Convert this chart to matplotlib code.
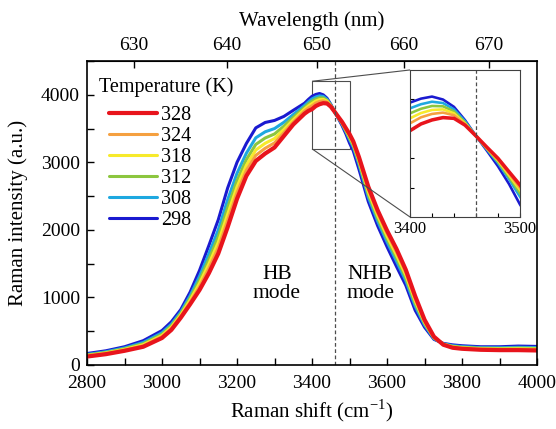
import numpy as np
import matplotlib
matplotlib.use('Agg')
import matplotlib.pyplot as plt
from mpl_toolkits.axes_grid1.inset_locator import mark_inset

plt.rcParams['font.family'] = ['Liberation Serif', 'DejaVu Serif']

# Raman shift grid (cm-1)
shift = [2800, 2850, 2900, 2950, 3000, 3025, 3050, 3075, 3100, 3125, 3150,
         3175, 3200, 3225, 3250, 3275, 3300, 3325, 3350, 3380, 3390, 3400,
         3410, 3420, 3430, 3440, 3450, 3460, 3470, 3480, 3490, 3500, 3510,
         3525, 3550, 3575, 3600, 3625, 3650, 3675, 3700, 3725, 3750, 3775,
         3800, 3850, 3900, 3950, 4000]

# intensities, one list per temperature
i298 = [170, 210, 270, 360, 510, 640, 820, 1080, 1400, 1770, 2150,
        2620, 3000, 3280, 3510, 3590, 3620, 3680, 3770, 3875, 3930, 3978,
        4005, 4019, 3999, 3949, 3859, 3751, 3650, 3545, 3425, 3285, 3170,
        2900, 2420, 2060, 1750, 1460, 1180, 810, 560, 380, 320, 298,
        285, 270, 270, 280, 275]
i308 = [155, 195, 252, 333, 477, 604, 784, 1026, 1313, 1647, 2000,
        2446, 2838, 3136, 3363, 3452, 3500, 3593, 3707, 3841, 3893, 3939,
        3967, 3984, 3975, 3932, 3852, 3751, 3659, 3567, 3458, 3338, 3226,
        2972, 2486, 2129, 1822, 1538, 1249, 873, 593, 392, 314, 285,
        272, 257, 255, 262, 257]
i312 = [148, 185, 240, 315, 455, 580, 760, 990, 1255, 1565, 1900,
        2330, 2730, 3040, 3265, 3360, 3420, 3535, 3665, 3813, 3862, 3905,
        3936, 3955, 3953, 3918, 3843, 3751, 3663, 3577, 3472, 3361, 3250,
        3003, 2530, 2175, 1870, 1590, 1295, 915, 615, 400, 310, 276,
        262, 248, 245, 250, 245]
i318 = [140, 177, 230, 300, 436, 560, 740, 959, 1206, 1495, 1815,
        2231, 2638, 2958, 3182, 3282, 3352, 3486, 3629, 3787, 3833, 3871,
        3907, 3928, 3932, 3905, 3836, 3751, 3667, 3585, 3485, 3384, 3272,
        3031, 2567, 2214, 1910, 1634, 1334, 951, 634, 407, 307, 269,
        255, 240, 237, 240, 235]
i324 = [133, 168, 220, 285, 419, 540, 720, 931, 1159, 1430, 1735,
        2139, 2552, 2882, 3103, 3208, 3288, 3439, 3596, 3760, 3804, 3837,
        3878, 3901, 3910, 3892, 3831, 3751, 3670, 3592, 3496, 3399, 3290,
        3055, 2603, 2252, 1950, 1676, 1371, 984, 651, 413, 303, 262,
        248, 233, 228, 230, 225]
i328 = [125, 160, 210, 270, 400, 520, 700, 900, 1110, 1360, 1650,
        2040, 2460, 2800, 3020, 3130, 3220, 3390, 3560, 3720, 3760, 3787,
        3833, 3860, 3876, 3871, 3825, 3751, 3674, 3599, 3508, 3418, 3310,
        3080, 2640, 2290, 1990, 1720, 1410, 1020, 670, 420, 300, 255,
        240, 225, 220, 220, 215]

temps = ['328', '324', '318', '312', '308', '298']
series = [i328, i324, i318, i312, i308, i298]
colors = ['#e8141c', '#f5a040', '#f7ea2c', '#8cc63f', '#1ea8e0', '#1a1ad0']
widths = [3.0, 2.2, 2.2, 2.2, 2.2, 2.2]

wl_ticks = [630, 640, 650, 660, 670]
laser = 1e7 / 532.0  # excitation, cm-1


def to_wl(s):
    return 1e7 / (laser - np.asarray(s, dtype=float))


def to_shift(w):
    return laser - 1e7 / np.asarray(w, dtype=float)


fig = plt.figure(figsize=(5.56, 4.29), dpi=100)
ax = fig.add_axes([0.1565, 0.1492, 0.8094, 0.7086])

handles = {}
for t, y, c, w in reversed(list(zip(temps, series, colors, widths))):
    h, = ax.plot(shift, y, color=c, lw=w, solid_capstyle='round',
                 solid_joinstyle='round')
    handles[t] = h

ax.axvline(3460, color='0.3', ls=(0, (3, 2)), lw=0.9)
ax.set_xlim(2800, 4000)
ax.set_ylim(0, 4500)
ax.set_xticks(range(2800, 4001, 200))
ax.set_xticks(range(2800, 4001, 100), minor=True)
ax.set_yticks(range(0, 4001, 1000))
ax.set_yticks(range(0, 4501, 500), minor=True)
ax.tick_params(which='both', direction='in', labelsize=14, right=False, top=False)
ax.tick_params(axis='x', which='both', pad=7)
ax.tick_params(axis='y', which='both', pad=5)
ax.tick_params(which='both', length=5, width=1)
for sp in ax.spines.values():
    sp.set_linewidth(1.2)
ax.set_xlabel('Raman shift (cm$^{\\mathregular{-1}}$)', fontsize=15, labelpad=4)
ax.set_ylabel('Raman intensity (a.u.)', fontsize=15, labelpad=9)

top = ax.secondary_xaxis('top', functions=(to_wl, to_shift))
top.set_xticks(wl_ticks)
top.tick_params(direction='in', length=5, width=1, labelsize=14, pad=5)
top.set_xlabel('Wavelength (nm)', fontsize=15, labelpad=8)

ax.text(3306, 1200, 'HB\nmode', fontsize=15.5, ha='center', va='center', linespacing=0.95)
ax.text(3555, 1200, 'NHB\nmode', fontsize=15.5, ha='center', va='center', linespacing=0.95)

ax.text(0.027, 0.914, 'Temperature (K)', transform=ax.transAxes,
        fontsize=14.5, ha='left', va='center')
ax.legend([handles[t] for t in temps], temps, loc='upper left',
          bbox_to_anchor=(0.049, 0.853), frameon=False, fontsize=14.5,
          handlelength=2.4, handletextpad=0.2, labelspacing=0.1,
          borderaxespad=0, borderpad=0)

# zoomed inset around the isosbestic point
axin = fig.add_axes([0.7374, 0.4942, 0.1978, 0.3427])
for t, y, c, w in reversed(list(zip(temps, series, colors, widths))):
    axin.plot(shift, y, color=c, lw=w * 0.85, solid_joinstyle='round')
axin.axvline(3460, color='0.3', ls=(0, (3, 2)), lw=0.9)
axin.set_xlim(3400, 3500)
axin.set_ylim(3200, 4200)
axin.set_xticks([3400, 3500])
axin.set_xticks(range(3400, 3501, 20), minor=True)
axin.set_yticks(range(3400, 4001, 200))
axin.set_yticklabels([])
axin.tick_params(which='both', direction='in', length=3, width=0.8, labelsize=12, pad=3)
for sp in axin.spines.values():
    sp.set_linewidth(0.8)
    sp.set_color('0.25')
mark_inset(ax, axin, loc1=2, loc2=3, fc='none', ec='0.3', lw=0.8)

fig.savefig('out.png', dpi=100)
